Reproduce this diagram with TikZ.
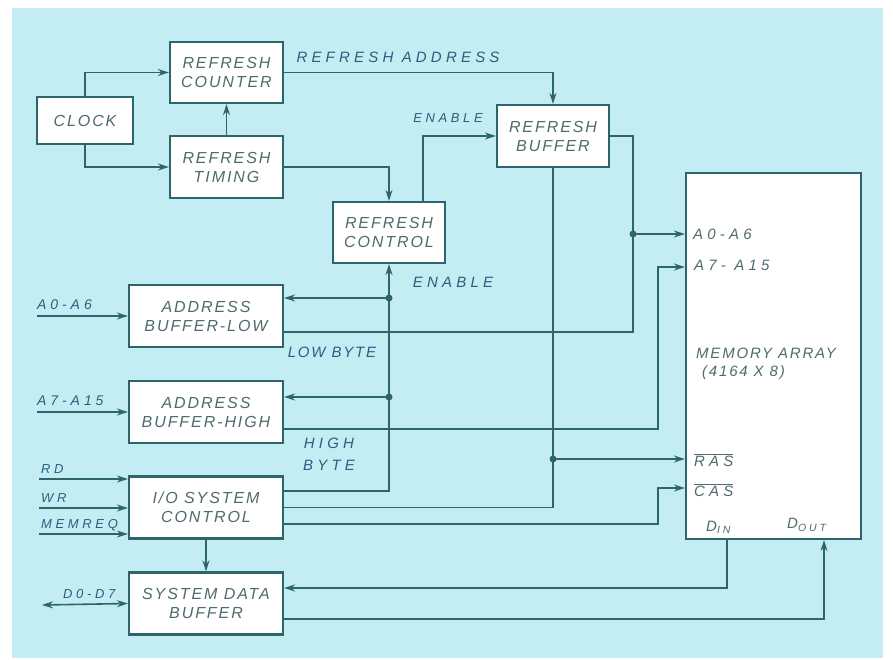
\documentclass[tikz,border=0pt]{standalone}
\usepackage{fontspec}
\newfontfamily\hand{Liberation Sans}[LetterSpace=12]
\newfontfamily\handw{Liberation Sans}[LetterSpace=28]
\usetikzlibrary{arrows.meta,calc}
\definecolor{dbg}{HTML}{C4EDF3}
\definecolor{dline}{HTML}{2C666B}
\definecolor{dtext}{HTML}{4F6B6D}
\definecolor{dlabel}{HTML}{2B5E7E}
\newcommand\ovl[1]{\ensuremath{\overline{\mbox{#1}}}}
\tikzset{
  blk/.style={draw=dline,fill=white,line width=2.2pt,align=center,text=dtext,font=\hand\itshape\fontsize{16}{19}\selectfont,inner sep=2pt},
  arr/.style={-{Stealth[length=11pt,width=7pt]},line width=1.6pt,draw=dline},
  dbl/.style={{Stealth[length=11pt,width=7pt]}-{Stealth[length=11pt,width=7pt]},line width=1.6pt,draw=dline},
  wire/.style={line width=1.6pt,draw=dline},
  sig/.style={text=dlabel,font=\handw\itshape\fontsize{15}{17}\selectfont,inner sep=1pt},
}
\begin{document}
\begin{tikzpicture}[x=1pt,y=-1pt,
                    inlbl/.style={text=dlabel,font=\handw\itshape\fontsize{14}{16}\selectfont,inner sep=0pt,anchor=base west},
                    pin/.style={text=dtext,font=\handw\itshape\fontsize{15}{18}\selectfont,inner sep=1pt,anchor=west,align=left}]
  \useasboundingbox (0,0) rectangle (893,660);
  \fill[dbg] (12,8) rectangle (883,658);
  \node[blk,minimum width=96pt,minimum height=47pt] (clock) at (85,120.5) {CLOCK};
  \node[blk,minimum width=113pt,minimum height=61pt] (cnt) at (226.5,72.5) {REFRESH\\COUNTER};
  \node[blk,minimum width=113pt,minimum height=62pt] (tim) at (226.5,167) {REFRESH\\TIMING};
  \node[blk,minimum width=112pt,minimum height=61pt] (ctl) at (389,232.5) {REFRESH\\CONTROL};
  \node[blk,minimum width=112pt,minimum height=62pt] (rbuf) at (553,136) {REFRESH\\BUFFER};
  \node[blk,minimum width=175pt,minimum height=366pt] (mem) at (773.5,356) {};
  \foreach \nm/\y/\t in {abl/316/{ADDRESS\\BUFFER-LOW}, abh/412/{ADDRESS\\BUFFER-HIGH},
                         ioc/507.5/{I/O SYSTEM\\CONTROL}, sdb/603.5/{SYSTEM DATA\\BUFFER}}
    \node[blk,minimum width=154pt,minimum height=62pt] (\nm) at (206,\y) {\t};

  \node[pin] (ma0) at (692,234) {A0-A6};
  \node[pin] (ma7) at (693,265) {A7- A15};
  \node[pin,font=\hand\itshape\fontsize{15}{18}\selectfont] (mtx) at (695,364) {MEMORY ARRAY\\\ (4164 X 8)};
  \node[pin] (mras) at (693,460) {\ovl{RAS}};
  \node[pin] (mcas) at (693,490) {\ovl{CAS}};
  \node[pin] (mdin) at (705,527) {D\textsubscript{IN}};
  \node[pin] (mdout) at (786,525) {D\textsubscript{OUT}};

  \node[sig] (lra) at (398,57) {REFRESH ADDRESS};
  \node[sig,font=\handw\itshape\fontsize{13}{15}\selectfont] (len1) at (448,118) {ENABLE};
  \node[sig] (len2) at (453,282) {ENABLE};
  \node[sig,font=\hand\itshape\fontsize{15}{17}\selectfont] (llb) at (332,352) {LOW BYTE};
  \node[sig,align=center,font=\handw\itshape\fontsize{15}{22}\selectfont] (lhb) at (329,454) {HIGH\\BYTE};

  \draw[arr] (clock.north) |- (cnt.west);
  \draw[arr] (clock.south) |- (tim.west);
  \draw[arr] (tim.north) -- (cnt.south);
  \draw[arr] (tim.east) -| (ctl.north);
  \draw[arr] (cnt.east) -| (rbuf.north);
  \draw[arr] ($(ctl.north)+(34,0)$) |- (rbuf.west);

  \coordinate (ja) at (633,234);
  \coordinate (jb) at (658,267);
  \coordinate (jr) at (553,459);
  \coordinate (jc) at (658,488);
  \coordinate (el) at (389,298);
  \coordinate (eh) at (389,397);
  \draw[wire] (rbuf.east) -| (ja) |- ($(abl.east)+(0,16)$);
  \draw[arr] (ja) -- (ja -| mem.west);
  \draw[arr] ($(abh.east)+(0,17)$) -| (jb) -- (jb -| mem.west);
  \draw[wire] (rbuf.south) -- (jr) |- (ioc.east);
  \draw[arr] (jr) -- (jr -| mem.west);
  \draw[arr] ($(ioc.east)+(0,16.5)$) -| (jc) -- (jc -| mem.west);
  \draw[arr] ($(ioc.east)+(0,-16.5)$) -| (ctl.south);
  \draw[arr] (el) -- (el -| abl.east);
  \draw[arr] (eh) -- (eh -| abh.east);
  \draw[arr] (ioc.south) -- (sdb.north);
  \draw[arr] ($(mem.south)+(-46.5,0)$) |- ($(sdb.east)+(0,-15.5)$);
  \draw[arr] ($(sdb.east)+(0,15.5)$) -| ($(mem.south)+(50.5,0)$);
  \foreach \c in {ja,jr,el,eh}
    \fill[dline] (\c) circle (3.5pt);

  \foreach \nm/\x/\y/\b/\t in {ia/37/316/abl/A0-A6, ib/37/412/abh/A7-A15}{
    \coordinate (\nm) at (\x,\y);
    \node[inlbl] (l\nm) at (\x,\y-7) {\t};
    \draw[arr] (\nm) -- (\b.west);
  }
  \foreach \nm/\y/\t in {rd/479/RD, wr/508/WR, mr/534/MEMREQ}{
    \coordinate (\nm) at (39,\y);
    \node[inlbl,font=\handw\itshape\fontsize{13}{15}\selectfont] (l\nm) at (41,\y-6) {\t};
    \draw[arr] (\nm) -- (\nm -| ioc.west);
  }
  \coordinate (dd) at (42,605);
  \node[inlbl,font=\handw\itshape\fontsize{13}{15}\selectfont] (ldd) at (63,598) {D0-D7};
  \draw[dbl] (dd) -- (sdb.west);
\end{tikzpicture}
\end{document}
